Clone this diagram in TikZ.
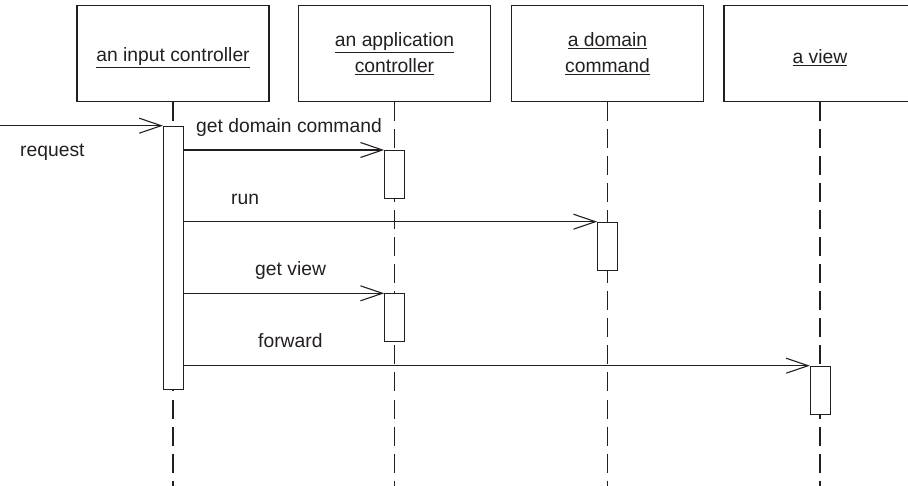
\documentclass[tikz,border=0pt]{standalone}
\usepackage{fontspec}
\setmainfont{Liberation Sans}
\usetikzlibrary{arrows.meta}
\definecolor{ink}{RGB}{35,31,32}
\begin{document}
\begin{tikzpicture}[x=1pt,y=-1pt,
  every node/.style={font=\fontsize{19.3}{26}\selectfont, text=ink},
  objbox/.style={draw=ink, line width=1.6pt, minimum width=192pt, minimum height=96pt, align=center, inner sep=0pt},
  lifeline/.style={draw=ink, line width=1.1pt, dash pattern=on 19pt off 8pt},
  actbox/.style={draw=ink, line width=1.1pt, fill=white, minimum width=20pt, inner sep=0pt, anchor=north},
  msg/.style={draw=ink, line width=1.1pt, -{Straight Barb[length=22pt,width=15pt,line width=1.1pt]}},
  lbl/.style={anchor=base west, inner sep=0pt}
]
\useasboundingbox (0,0) rectangle (908,486);
% object boxes
\node[objbox] (ic) at (173,53.7) {\raisebox{-4pt}[\height][\depth]{\underline{an input controller}}};
\node[objbox] (ac) at (394.5,53.7) {\underline{an application}\\\underline{controller}};
\node[objbox] (dc) at (607.5,53.7) {\underline{a domain}\\\underline{command}};
\node[objbox] (vw) at (820,53.7) {\raisebox{-4pt}[\height][\depth]{\underline{a view}}};
\coordinate (bottom) at (0,486);
% lifelines
\draw[lifeline] (ic.south) -- (ic.south |- bottom);
\draw[lifeline] (ac.south) -- (ac.south |- bottom);
\draw[lifeline] (dc.south) -- (dc.south |- bottom);
\draw[lifeline] (vw.south) -- (vw.south |- bottom);
% activation boxes
\node[actbox, minimum height=263.6pt] (ica) at (173.5,125.7) {};
\node[actbox, minimum height=47.7pt] (aca1) at (394.7,150) {};
\node[actbox, minimum height=48.6pt] (dca) at (607.7,221.7) {};
\node[actbox, minimum height=48pt] (aca2) at (394.7,293.3) {};
\node[actbox, minimum height=48pt] (vwa) at (820.4,365.7) {};
% messages
\coordinate (src) at (0,125.7);
\draw[msg] (src) -- (ica.north west);
\draw[msg] (ica.east |- aca1.north) -- (aca1.north west);
\draw[msg] (ica.east |- dca.north) -- (dca.north west);
\draw[msg] (ica.east |- aca2.north) -- (aca2.north west);
\draw[msg] (ica.east |- vwa.north) -- (vwa.north west);
% labels
\node[lbl] (lreq) at (20,156.5) {request};
\node[lbl] (lgdc) at (196,132.5) {get domain command};
\node[lbl] (lrun) at (231,205) {run};
\node[lbl] (lgv) at (255,275.5) {get view};
\node[lbl] (lfw) at (258,347.5) {forward};
\end{tikzpicture}
\end{document}
